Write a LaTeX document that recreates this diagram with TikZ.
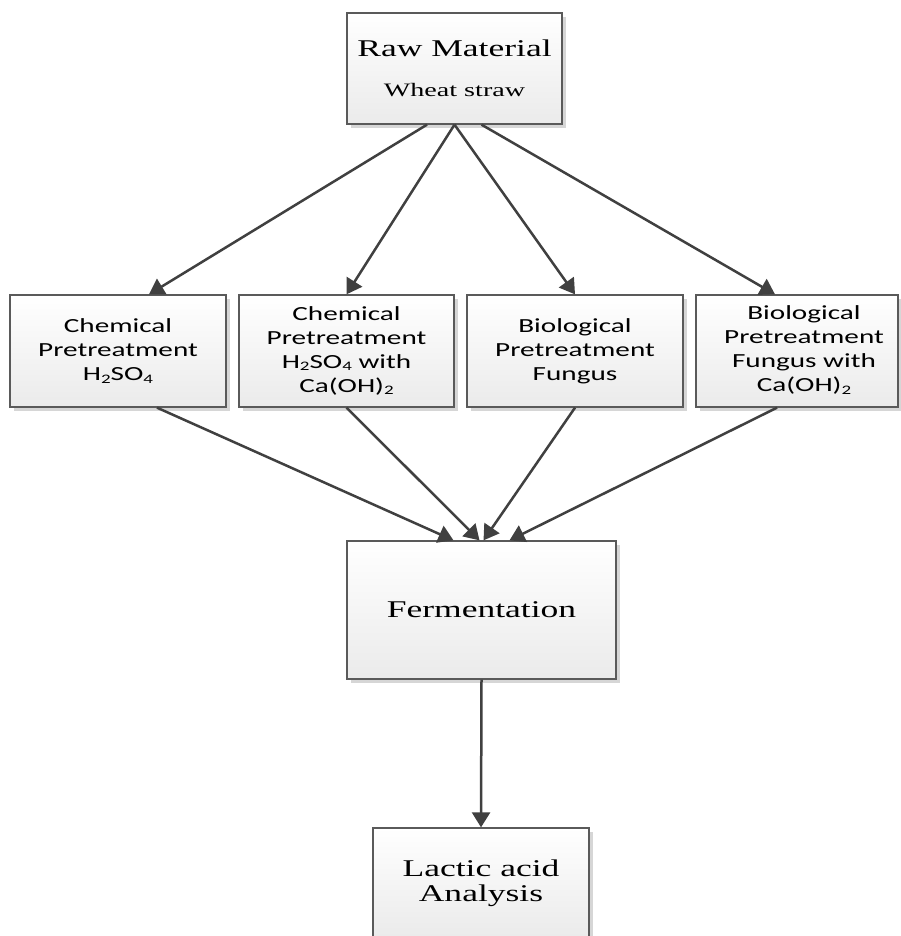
\documentclass[tikz,border=0pt]{standalone}
\usepackage{fontspec}
\setmainfont{Liberation Serif}
\newfontfamily\serifx[FakeStretch=1.48]{Liberation Serif}
\newfontfamily\sansx[FakeStretch=1.46]{Carlito}
\usetikzlibrary{arrows.meta,shadows}
\definecolor{boxline}{HTML}{5A5A5A}
\definecolor{arrcol}{HTML}{404040}
\newcommand\chsub[1]{\raisebox{-0.25ex}{\fontsize{13}{13}\selectfont #1}}
\tikzset{
  boxnode/.style={draw=boxline, line width=1.3pt, top color=white, bottom color=black!8,
    general shadow={fill=black!16, shadow xshift=4pt, shadow yshift=-4pt},
    inner sep=0pt, align=center, rectangle},
  sansbox/.style={boxnode, minimum width=216pt, minimum height=112pt,
    font=\sansx\fontsize{20}{24}\selectfont},
  arr/.style={draw=arrcol, line width=2.5pt, -{Triangle[length=15pt,width=18pt]}}
}
\begin{document}
\begin{tikzpicture}[x=1pt,y=-1pt]
\fill[white] (0,0) rectangle (900,936);
\useasboundingbox (0,0) rectangle (900,936);
\node[boxnode, minimum width=215pt, minimum height=111pt,
  font=\serifx\fontsize{19}{40}\selectfont] (raw) at (454.5,68.5)
  {{\fontsize{24}{40}\selectfont Raw Material}\\Wheat straw};
\node[sansbox] (b1) at (118,351) {Chemical\\Pretreatment\\H\chsub{2}SO\chsub{4}};
\node[sansbox, minimum width=215pt] (b2) at (346.5,351) {Chemical\\Pretreatment\\H\chsub{2}SO\chsub{4} with\\Ca(OH)\chsub{2}};
\node[sansbox] (b3) at (575,351) {Biological\\Pretreatment\\Fungus};
\node[sansbox, minimum width=202pt] (b4) at (797,351)
  {\hspace*{14pt}\begin{tabular}{@{}c@{}}Biological\\Pretreatment\\Fungus with\\Ca(OH)\chsub{2}\end{tabular}};
\node[boxnode, minimum width=269pt, minimum height=138pt,
  font=\serifx\fontsize{24}{25}\selectfont] (ferm) at (481.5,610) {Fermentation};
\node[boxnode, minimum width=216pt, minimum height=110pt,
  font=\serifx\fontsize{24}{25}\selectfont] (lac) at (481,883) {Lactic acid\\Analysis};
\draw[arr] ([xshift=-27.5pt]raw.south) -- ([xshift=31pt]b1.north);
\draw[arr] ([xshift=0pt]raw.south) -- ([xshift=0pt]b2.north);
\draw[arr] ([xshift=0pt]raw.south) -- ([xshift=0pt]b3.north);
\draw[arr] ([xshift=27pt]raw.south) -- ([xshift=-22pt]b4.north);
\draw[arr] ([xshift=39pt]b1.south) -- ([xshift=-28pt]ferm.north);
\draw[arr] (b2.south) -- ([xshift=-2pt]ferm.north);
\draw[arr] (b3.south) -- ([xshift=2pt]ferm.north);
\draw[arr] ([xshift=-20pt]b4.south) -- ([xshift=28pt]ferm.north);
\draw[arr] (ferm.south) -- (lac.north);
\end{tikzpicture}
\end{document}
